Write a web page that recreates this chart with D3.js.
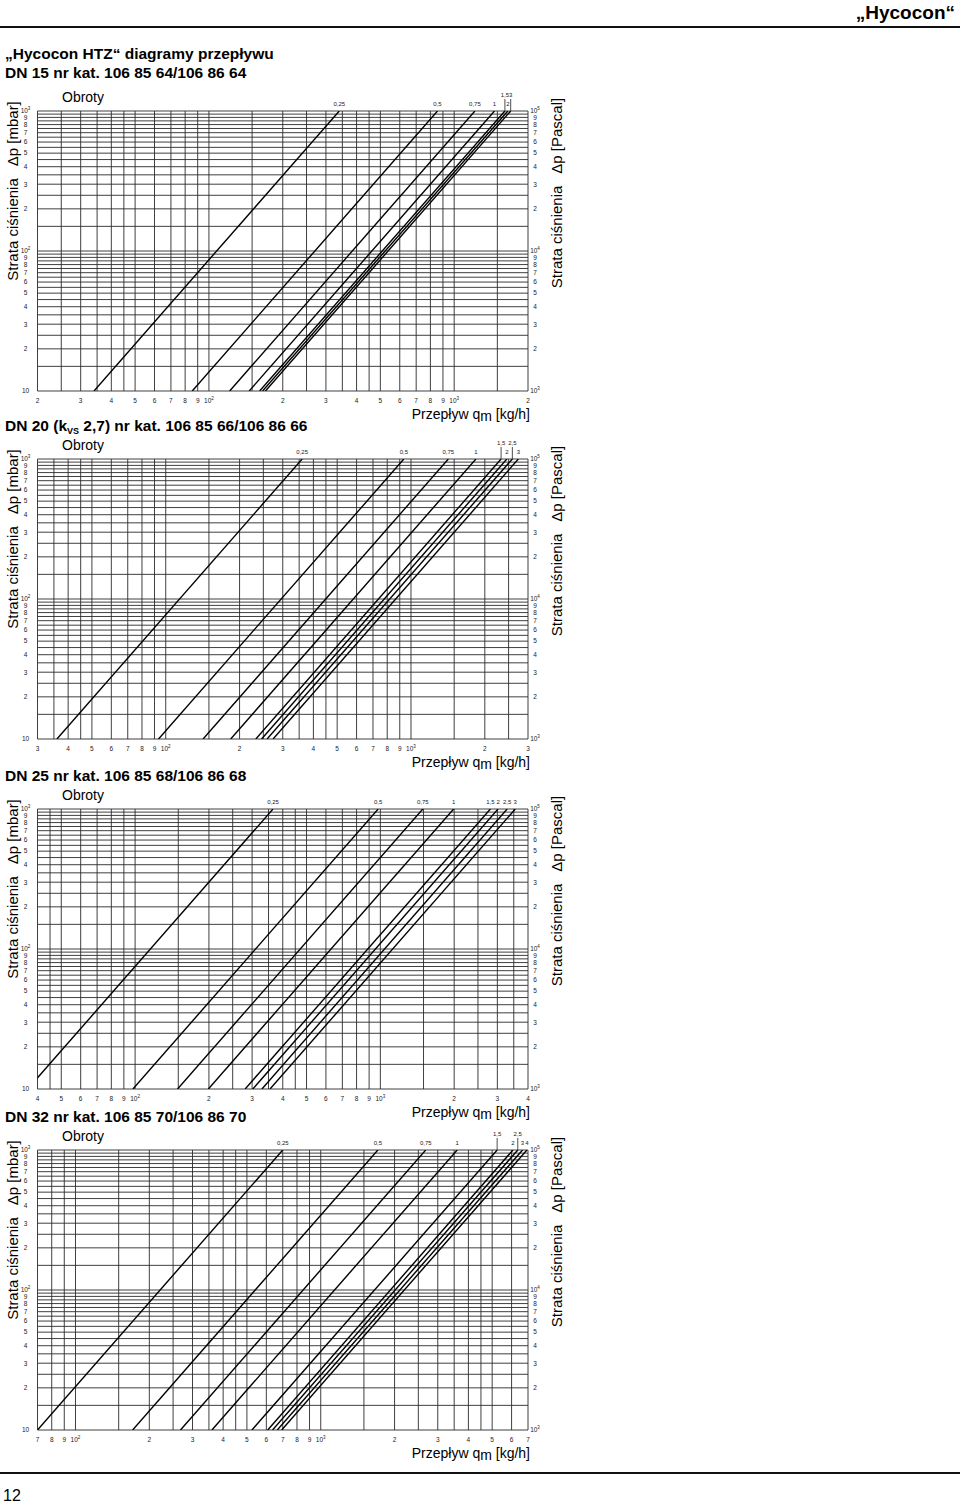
<!DOCTYPE html>
<html lang="pl">
<head>
<meta charset="utf-8">
<script src="https://cdn.jsdelivr.net/npm/d3@7"></script>
<style>
  html, body { margin: 0; padding: 0; background: #fff; }
  svg { display: block; font-family: 'Liberation Sans', Arial, sans-serif; }
</style>
</head>
<body>
<div id="page"></div>
<script>
'use strict';

// left end of each flow axis, kg/h (each axis spans two decades)
const flowStart = [20, 30, 40, 70];

// pressure loss range, mbar
const dpRange = [10, 1000];

// presetting (Obroty) labels and the kv
const turns15 = ['0,25', '0,5', '0,75', '1', '1,5', '2', '3'];
const kv15 = [0.34, 0.855, 1.215, 1.46, 1.61, 1.655, 1.70];

const turns20 = ['0,25', '0,5', '0,75', '1', '1,5', '2', '2,5', '3'];
const kv20 = [0.36, 0.935, 1.42, 1.84, 2.33, 2.46, 2.59, 2.74];

const turns25 = ['0,25', '0,5', '0,75', '1', '1,5', '2', '2,5', '3'];
const kv25 = [0.365, 0.98, 1.49, 1.99, 2.81, 3.02, 3.29, 3.55];

const turns32 = ['0,25', '0,5', '0,75', '1', '1,5', '2', '2,5', '3', '4'];
const kv32 = [0.70, 1.71, 2.68, 3.6, 5.24, 6.08, 6.36, 6.65, 6.93];

// grid mantissas per decade
const gridX = [1, 1.5, 2, 2.5, 3, 3.5, 4, 4.5, 5, 6, 7, 8, 9];
const gridY = [1, 1.5, 2, 2.5, 3, 3.5, 4, 4.5, 5, 5.5, 6, 6.5, 7, 7.5, 8, 8.5, 9, 9.5];
const tickMantissa = [1, 2, 3, 4, 5, 6, 7, 8, 9];

const pageTitle = '\u201EHycocon HTZ\u201C diagramy przepływu';
const titles = [
    ['DN 15 nr kat. 106 85 64/106 86 64'],
    ['DN 20 (k', 'VS', ' 2,7) nr kat. 106 85 66/106 86 66'],
    ['DN 25 nr kat. 106 85 68/106 86 68'],
    ['DN 32 nr kat. 106 85 70/106 86 70']
];

// page layout
const W = 960, H = 1506;
const plotLeft = 37.5, plotRight = 528, plotHeight = 280;
const charts = [
    { top: 111, turns: turns15, kv: kv15, raised: ['1,5', '3'] },
    { top: 459, turns: turns20, kv: kv20, raised: ['1,5', '2,5'] },
    { top: 809, turns: turns25, kv: kv25, raised: [] },
    { top: 1150, turns: turns32, kv: kv32, raised: ['1,5', '2,5'] }
];

const svg = d3.select('#page')
    .append('svg')
    .attr('width', W)
    .attr('height', H);

// header
svg.append('text')
    .attr('x', 955).attr('y', 19)
    .attr('text-anchor', 'end')
    .style('font-size', '19px').style('font-weight', 'bold')
    .text('\u201EHycocon\u201C');
svg.append('rect').attr('x', 0).attr('y', 26).attr('width', W).attr('height', 2).attr('fill', '#111');

svg.append('text')
    .attr('x', 5).attr('y', 58.5)
    .style('font-size', '15.5px').style('font-weight', 'bold')
    .text(pageTitle);

// footer
svg.append('rect').attr('x', 0).attr('y', 1472).attr('width', W).attr('height', 2).attr('fill', '#111');
svg.append('text')
    .attr('x', 3).attr('y', 1501)
    .style('font-size', '16px')
    .text('12');

// values in the mantissa set that fall in [lo, hi]
function gridValues(mantissas, lo, hi) {
    const out = [];
    for (let k = Math.floor(Math.log10(lo)); k <= Math.ceil(Math.log10(hi)); k++) {
        mantissas.forEach(m => {
            const v = +(m * Math.pow(10, k)).toPrecision(6);
            if (v >= lo * 0.9999 && v <= hi * 1.0001) out.push(v);
        });
    }
    return out;
}

// writes "10" with exponent, or plain mantissa
function tickText(sel, v, plainTen) {
    const k = Math.round(Math.log10(v));
    const m = Math.round(v / Math.pow(10, Math.floor(Math.log10(v) + 1e-9)));
    if (m === 1) {
        sel.append('tspan').text('10');
        if (!(plainTen && k === 1)) {
            sel.append('tspan').attr('dy', -3).style('font-size', '4.5px').text(k);
        }
    } else {
        sel.text(m);
    }
}

function drawChart(cfg, i) {
    const T = cfg.top, B = T + plotHeight;
    const start = flowStart[i];
    const x = d3.scaleLog().domain([start, start * 100]).range([plotLeft, plotRight]);
    const y = d3.scaleLog().domain(dpRange).range([B, T]);
    const yPa = d3.scaleLog().domain(dpRange.map(d => d * 100)).range([B, T]);
    const g = svg.append('g');

    // title
    if (i === 0) {
        g.append('text')
            .attr('x', 5).attr('y', 77.5)
            .style('font-size', '15.5px').style('font-weight', 'bold')
            .text(titles[0][0]);
    } else {
        const t = g.append('text')
            .attr('x', 5).attr('y', T - 28)
            .style('font-size', '15.5px').style('font-weight', 'bold');
        t.append('tspan').text(titles[i][0]);
        if (titles[i].length > 1) {
            t.append('tspan').attr('dy', 3).style('font-size', '9px').text(titles[i][1]);
            t.append('tspan').attr('dy', -3).text(titles[i][2]);
        }
    }

    g.append('text')
        .attr('x', 62).attr('y', T - 9)
        .style('font-size', '14px')
        .text('Obroty');

    // grid
    const grid = g.append('g')
        .attr('stroke', '#2a2a2a')
        .attr('stroke-width', 0.9);
    grid.selectAll('line.v')
        .data(gridValues(gridX, start, start * 100))
        .join('line')
        .attr('class', 'v')
        .attr('x1', d => x(d)).attr('x2', d => x(d))
        .attr('y1', T).attr('y2', B);
    grid.selectAll('line.h')
        .data(gridValues(gridY, dpRange[0], dpRange[1]))
        .join('line')
        .attr('class', 'h')
        .attr('x1', plotLeft).attr('x2', plotRight)
        .attr('y1', d => y(d)).attr('y2', d => y(d));

    // left mbar ticks
    const tickFont = '6.5px';
    g.append('g').selectAll('text')
        .data(gridValues(tickMantissa, dpRange[0], dpRange[1]))
        .join('text')
        .attr('x', plotLeft - 12)
        .attr('y', d => y(d) + 2.3)
        .attr('text-anchor', 'middle')
        .style('font-size', tickFont)
        .attr('fill', '#222')
        .each(function (d) { tickText(d3.select(this), d, true); });

    // right Pascal ticks
    g.append('g').selectAll('text')
        .data(gridValues(tickMantissa, dpRange[0] * 100, dpRange[1] * 100))
        .join('text')
        .attr('x', plotRight + 7)
        .attr('y', d => yPa(d) + 2.3)
        .attr('text-anchor', 'middle')
        .style('font-size', tickFont)
        .attr('fill', '#222')
        .each(function (d) { tickText(d3.select(this), d, false); });

    // flow ticks
    g.append('g').selectAll('text')
        .data(gridValues(tickMantissa, start, start * 100))
        .join('text')
        .attr('x', d => x(d))
        .attr('y', B + 12)
        .attr('text-anchor', 'middle')
        .style('font-size', tickFont)
        .attr('fill', '#222')
        .each(function (d) { tickText(d3.select(this), d, false); });

    // axis titles
    const leftTitle = g.append('text')
        .attr('transform', `translate(18,${T + 80}) rotate(-90)`)
        .attr('text-anchor', 'middle')
        .style('font-size', '15px');
    leftTitle.append('tspan').text('Strata ciśnienia');
    leftTitle.append('tspan').attr('dx', 12).text('\u0394p [mbar]');

    const rightTitle = g.append('text')
        .attr('transform', `translate(562,${T + 82}) rotate(-90)`)
        .attr('text-anchor', 'middle')
        .style('font-size', '15px');
    rightTitle.append('tspan').text('Strata ciśnienia');
    rightTitle.append('tspan').attr('dx', 12).text('\u0394p [Pascal]');

    const flowTitle = g.append('text')
        .attr('x', plotRight + 2)
        .attr('y', B + 28)
        .attr('text-anchor', 'end')
        .style('font-size', '14px');
    flowTitle.append('tspan').text('Przepływ q');
    flowTitle.append('tspan').attr('dy', 2).text('m');
    flowTitle.append('tspan').attr('dy', -2).text(' [kg/h]');

    // characteristic lines: q = kv * 1000 * sqrt(dp / 1000 mbar)
    const clipId = 'clip' + i;
    g.append('clipPath').attr('id', clipId)
        .append('rect')
        .attr('x', plotLeft).attr('y', T)
        .attr('width', plotRight - plotLeft).attr('height', plotHeight);

    const series = cfg.kv.map((kv, j) => ({
        label: cfg.turns[j],
        raised: cfg.raised.includes(cfg.turns[j]),
        points: dpRange.map(dp => ({ q: kv * 1000 * Math.sqrt(dp / 1000), dp: dp }))
    }));

    const line = d3.line()
        .x(d => x(d.q))
        .y(d => y(d.dp));

    g.append('g')
        .attr('clip-path', `url(#${clipId})`)
        .attr('fill', 'none')
        .attr('stroke', '#000')
        .attr('stroke-width', 1.4)
        .selectAll('path')
        .data(series)
        .join('path')
        .attr('d', d => line(d.points));

    const topX = d => x(d.points[1].q);

    g.append('g').selectAll('text')
        .data(series)
        .join('text')
        .attr('x', topX)
        .attr('y', d => d.raised ? T - 14 : T - 5)
        .attr('text-anchor', 'middle')
        .style('font-size', '6px')
        .attr('fill', '#222')
        .text(d => d.label);

    g.append('g').selectAll('line')
        .data(series.filter(d => d.raised))
        .join('line')
        .attr('stroke', '#222')
        .attr('stroke-width', 0.8)
        .attr('x1', topX).attr('x2', topX)
        .attr('y1', T - 12).attr('y2', T);
}

charts.forEach(drawChart);
</script>
</body>
</html>
